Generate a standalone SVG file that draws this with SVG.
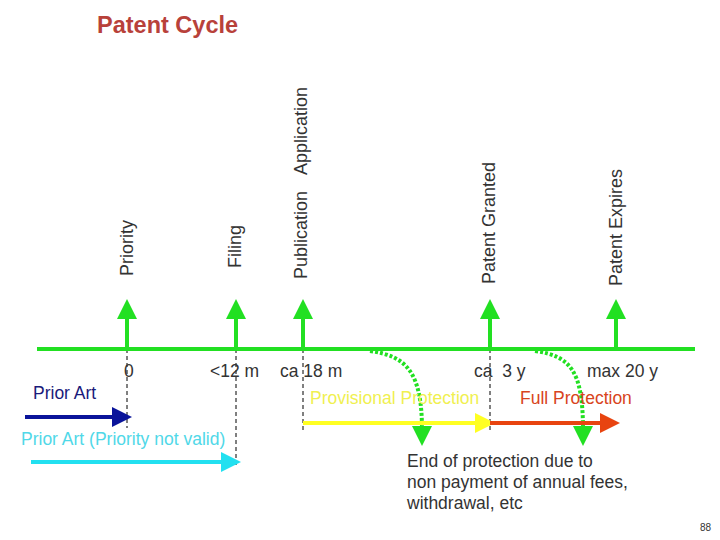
<svg xmlns="http://www.w3.org/2000/svg" width="720" height="540" viewBox="0 0 720 540">
<style>
text{font-family:"Liberation Sans",Arial,sans-serif;font-size:17.5px;fill:#333}
.v{font-size:18px}
.g{stroke:#22e022;stroke-width:4;fill:none}
.d{stroke:#000;stroke-width:1;stroke-dasharray:4,3}
</style>
<defs>
<marker id="ag" markerWidth="5" markerHeight="5" refX="1" refY="2.5" orient="auto"><path d="M0,0L5,2.5L0,5z" fill="#22e022"/></marker>
<marker id="an" markerWidth="5" markerHeight="5" refX="1" refY="2.5" orient="auto"><path d="M0,0L5,2.5L0,5z" fill="#0a149a"/></marker>
<marker id="ac" markerWidth="5" markerHeight="5" refX="1" refY="2.5" orient="auto"><path d="M0,0L5,2.5L0,5z" fill="#22e0f0"/></marker>
<marker id="ay" markerWidth="5" markerHeight="5" refX="1" refY="2.5" orient="auto"><path d="M0,0L5,2.5L0,5z" fill="#ffff22"/></marker>
<marker id="ar" markerWidth="5" markerHeight="5" refX="1" refY="2.5" orient="auto"><path d="M0,0L5,2.5L0,5z" fill="#e84410"/></marker>
</defs>
<text x="97" y="33" style="font-size:23.5px;font-weight:bold;fill:#b8413a">Patent Cycle</text>
<g id="labels">
<text class="v" transform="translate(133,276) rotate(-90)">Priority</text>
<text class="v" transform="translate(241,268) rotate(-90)">Filing</text>
<text class="v" transform="translate(307,279) rotate(-90)" style="word-spacing:12px">Publication Application</text>
<text class="v" transform="translate(495,284) rotate(-90)">Patent Granted</text>
<text class="v" transform="translate(622,286) rotate(-90)">Patent Expires</text>
</g>
<g id="connectors">
<line class="d" x1="127" y1="349" x2="127" y2="428"/>
<line class="d" x1="236" y1="349" x2="236" y2="468"/>
<line class="d" x1="303" y1="349" x2="303" y2="433"/>
<line class="d" x1="490" y1="349" x2="490" y2="433"/>
<line class="g" x1="37" y1="349" x2="695" y2="349"/>
<line class="g" x1="127" y1="349" x2="127" y2="315" marker-end="url(#ag)"/>
<line class="g" x1="236" y1="349" x2="236" y2="315" marker-end="url(#ag)"/>
<line class="g" x1="303" y1="349" x2="303" y2="315" marker-end="url(#ag)"/>
<line class="g" x1="490" y1="349" x2="490" y2="315" marker-end="url(#ag)"/>
<line class="g" x1="616" y1="349" x2="616" y2="315" marker-end="url(#ag)"/>
<path class="g" d="M370,351 C405,356 422,370 422,430" stroke-dasharray="3,2" marker-end="url(#ag)"/>
<path class="g" d="M535,351 C570,356 583,370 583,430" stroke-dasharray="3,2" marker-end="url(#ag)"/>
<line x1="25" y1="417" x2="116" y2="417" stroke="#0a149a" stroke-width="4" marker-end="url(#an)"/>
<line x1="31" y1="462" x2="225" y2="462" stroke="#22e0f0" stroke-width="4" marker-end="url(#ac)"/>
<line x1="303" y1="423" x2="479" y2="423" stroke="#ffff22" stroke-width="4" marker-end="url(#ay)"/>
<line x1="490" y1="423" x2="604" y2="423" stroke="#e84410" stroke-width="4" marker-end="url(#ar)"/>
</g>
<g id="texts">
<text x="124" y="377">0</text>
<text x="210" y="377">&lt;12 m</text>
<text x="280" y="377">ca 18 m</text>
<text x="474" y="377" xml:space="preserve">ca  3 y</text>
<text x="587" y="377">max 20 y</text>
<text x="310" y="404" style="fill:#f0f050">Provisional Protection</text>
<text x="520" y="404" style="fill:#d84420">Full Protection</text>
<text x="33" y="399" style="fill:#1a1a7a">Prior Art</text>
<text x="21" y="445" style="fill:#50d8e8">Prior Art (Priority not valid)</text>
<text x="407" y="467">End of protection due to</text>
<text x="407" y="488">non payment of annual fees,</text>
<text x="407" y="509">withdrawal, etc</text>
<text x="700" y="531" style="font-size:10px">88</text>
</g>
</svg>
